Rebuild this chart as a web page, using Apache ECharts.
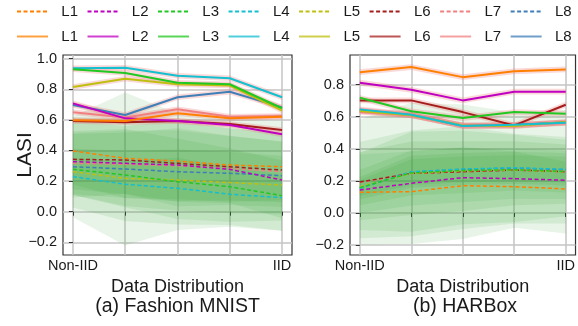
<!DOCTYPE html>
<html><head><meta charset="utf-8">
<script src="https://cdn.jsdelivr.net/npm/echarts@6/dist/echarts.min.js"></script>
<style>html,body{margin:0;padding:0;background:#fff}#c{width:578px;height:326px}</style>
</head><body><div id="c"></div>
<script>
// ---------- data ----------
const layers = ['L1','L2','L3','L4','L5','L6','L7','L8'];
const layerColors = ['#ff8000','#c000c0','#22c822','#14bfcf','#bfbf10','#a51c1c','#f08080','#3f7fb8'];
const xPos = [0, 1, 2, 3, 4];
const xTickLabels = ['Non-IID', '', '', '', 'IID'];
const yTicksFM = [-0.2, 0.0, 0.2, 0.4, 0.6, 0.8, 1.0];
const yTicksHB = [-0.2, 0.0, 0.2, 0.4, 0.6, 0.8];
const xLabelText = 'Data Distribution';
const yLabelText = 'LASI';
const subTitles = ['(a) Fashion MNIST', '(b) HARBox'];

// (a) Fashion MNIST, solid lines (mean) per layer
const fmSolid = [
  [0.597, 0.593, 0.643, 0.610, 0.621],
  [0.708, 0.610, 0.593, 0.567, 0.506],
  [0.931, 0.906, 0.843, 0.833, 0.676],
  [0.937, 0.940, 0.889, 0.872, 0.748],
  [0.815, 0.869, 0.833, 0.824, 0.660],
  [0.593, 0.584, 0.593, 0.573, 0.534],
  [0.650, 0.615, 0.670, 0.620, 0.625],
  [0.697, 0.632, 0.748, 0.784, 0.682]
];
const fmSolidStd = [0.018, 0.018, 0.018, 0.018, 0.018];
// (a) Fashion MNIST, dashed lines (mean) per layer
const fmDashed = [
  [0.397, 0.349, 0.331, 0.305, 0.294],
  [0.327, 0.316, 0.305, 0.277, 0.207],
  [0.277, 0.240, 0.196, 0.163, 0.105],
  [0.229, 0.179, 0.153, 0.114, 0.092],
  [0.261, 0.218, 0.207, 0.190, 0.174],
  [0.342, 0.338, 0.316, 0.294, 0.272],
  [0.316, 0.310, 0.300, 0.283, 0.261],
  [0.294, 0.279, 0.261, 0.251, 0.235]
];
const fmDashedStd = [
  [0.22, 0.26, 0.25, 0.24, 0.22],
  [0.18, 0.20, 0.24, 0.22, 0.25],
  [0.25, 0.30, 0.28, 0.25, 0.23],
  [0.12, 0.15, 0.20, 0.18, 0.15],
  [0.15, 0.18, 0.20, 0.20, 0.19],
  [0.25, 0.22, 0.28, 0.25, 0.24],
  [0.20, 0.22, 0.23, 0.21, 0.20],
  [0.33, 0.50, 0.38, 0.35, 0.36]
];

// (b) HARBox
const hbSolid = [
  [0.878, 0.910, 0.847, 0.883, 0.895],
  [0.812, 0.768, 0.702, 0.756, 0.756],
  [0.718, 0.634, 0.592, 0.629, 0.619],
  [0.646, 0.612, 0.542, 0.550, 0.563],
  [0.636, 0.609, 0.546, 0.542, 0.567],
  [0.702, 0.702, 0.629, 0.546, 0.675],
  [0.630, 0.610, 0.545, 0.545, 0.562],
  [0.640, 0.611, 0.544, 0.548, 0.565]
];
const hbSolidStd = [0.018, 0.018, 0.018, 0.018, 0.018];
const hbDashed = [
  [0.129, 0.133, 0.170, 0.164, 0.150],
  [0.143, 0.185, 0.220, 0.214, 0.204],
  [0.158, 0.250, 0.265, 0.270, 0.258],
  [0.154, 0.257, 0.274, 0.282, 0.272],
  [0.164, 0.247, 0.263, 0.268, 0.257],
  [0.193, 0.247, 0.257, 0.268, 0.257],
  [0.190, 0.246, 0.258, 0.268, 0.257],
  [0.156, 0.255, 0.272, 0.280, 0.270]
];
const hbDashedStd = [
  [0.235, 0.25, 0.24, 0.22, 0.17],
  [0.30, 0.33, 0.32, 0.28, 0.27],
  [0.11, 0.14, 0.14, 0.13, 0.13],
  [0.07, 0.10, 0.10, 0.10, 0.10],
  [0.21, 0.26, 0.25, 0.22, 0.20],
  [0.39, 0.44, 0.42, 0.36, 0.385],
  [0.19, 0.20, 0.19, 0.18, 0.17],
  [0.05, 0.08, 0.08, 0.08, 0.08]
];

// ---------- chart ----------
const FONT = '"Liberation Sans", Arial, Helvetica, sans-serif';
const TXT = '#1a1a1a';
const series = [];

function fmtY(v) {
  const r = Math.round(v * 10) / 10;
  return (r < 0 ? '\u2212' : '') + Math.abs(r).toFixed(1);
}

function bandSeries(g, mean, std, color, opacity, z) {
  const lower = mean.map((m, i) => m - std[i]);
  const upper = mean.map((m, i) => m + std[i]);
  return {
    type: 'custom', xAxisIndex: g, yAxisIndex: g, silent: true, z: z, clip: true,
    encode: {x: 0, y: [1, 2]},
    data: xPos.map((x, i) => [x, lower[i], upper[i]]),
    renderItem: (params, api) => {
      if (params.dataIndex !== 0) return null;
      const pts = [];
      for (let i = 0; i < xPos.length; i++) pts.push(api.coord([xPos[i], upper[i]]));
      for (let i = xPos.length - 1; i >= 0; i--) pts.push(api.coord([xPos[i], lower[i]]));
      return {type: 'polygon', shape: {points: pts}, style: {fill: color, opacity: opacity}};
    }
  };
}

function addChart(g, solid, solidStd, dashed, dashedStd) {
  const base = {type: 'line', xAxisIndex: g, yAxisIndex: g, symbol: 'none', silent: true, animation: false};
  dashed.forEach((m, k) => series.push(bandSeries(g, m, dashedStd[k], 'rgb(44,160,44)', 0.115, 1)));
  solid.forEach((m) => series.push(bandSeries(g, m, solidStd, '#f08080', 0.3, 2)));
  for (let k = dashed.length - 1; k >= 0; k--) {
    series.push(Object.assign({}, base, {
      name: layers[k], z: 3,
      itemStyle: {color: layerColors[k]},
      lineStyle: {color: layerColors[k], width: 1.5, type: [4, 2.5]},
      data: xPos.map((x, i) => [x, dashed[k][i]])
    }));
  }
  for (let k = solid.length - 1; k >= 0; k--) {
    series.push(Object.assign({}, base, {
      name: layers[k] + ' ', z: 4,
      itemStyle: {color: layerColors[k]},
      lineStyle: {color: layerColors[k], width: 2},
      data: xPos.map((x, i) => [x, solid[k][i]])
    }));
  }
}
addChart(0, fmSolid, fmSolidStd, fmDashed, fmDashedStd);
addChart(1, hbSolid, hbSolidStd, hbDashed, hbDashedStd);

function xAxis(g) {
  return {
    type: 'value', gridIndex: g, min: -0.19, max: 4.19,
    name: xLabelText, nameLocation: 'middle', nameGap: 18,
    nameTextStyle: {fontFamily: FONT, fontSize: 18, color: TXT},
    axisLine: {show: false},
    axisTick: {show: true, length: 4, lineStyle: {color: '#333'}, customValues: xPos},
    axisLabel: {customValues: [xPos[0], xPos[4]], fontFamily: FONT, fontSize: 14.5, color: TXT, margin: 3,
      formatter: v => xTickLabels[Math.round(v)]},
    splitLine: {show: true, lineStyle: {color: '#c4c4c4', width: 1.5}}
  };
}
function yAxis(g, min, max, ticks) {
  return {
    type: 'value', gridIndex: g, min: min, max: max,
    axisLine: {show: false},
    axisTick: {show: true, length: 4, lineStyle: {color: '#333'}, customValues: ticks},
    axisLabel: {customValues: ticks, fontFamily: FONT, fontSize: 14.5, color: TXT, margin: 6, formatter: fmtY},
    splitLine: {show: true, lineStyle: {color: '#c4c4c4', width: 1.5}}
  };
}

const legendCommon = {
  itemWidth: 31, itemHeight: 14, itemGap: 8.5, left: 16, width: 575, padding: 0,
  selectedMode: false,
  itemStyle: {opacity: 0, borderWidth: 0},
  textStyle: {fontFamily: FONT, fontSize: 15, color: TXT},
  formatter: n => '  ' + n.trim()
};

const option = {
  animation: false,
  backgroundColor: '#fff',
  grid: [
    {left: 63, top: 55, width: 229, height: 200, show: true, borderColor: '#333', borderWidth: 1.2, backgroundColor: 'transparent'},
    {left: 350, top: 55, width: 230, height: 200, show: true, borderColor: '#333', borderWidth: 1.2, backgroundColor: 'transparent'}
  ],
  xAxis: [xAxis(0), xAxis(1)],
  yAxis: [yAxis(0, -0.283, 1.024, yTicksFM), yAxis(1, -0.262, 0.985, yTicksHB)],
  legend: [
    Object.assign({}, legendCommon, {top: 4, data: layers.slice()}),
    Object.assign({}, legendCommon, {top: 29, data: layers.map(n => ({name: n + ' ', lineStyle: {opacity: 0.75}}))})
  ],
  graphic: [
    {type: 'text', x: 25, y: 155, rotation: Math.PI / 2,
      style: {text: yLabelText, fontFamily: FONT, fontSize: 21, fill: TXT, align: 'center', verticalAlign: 'middle'}},
    {type: 'text', x: 177.5, y: 307,
      style: {text: subTitles[0], fontFamily: FONT, fontSize: 19.5, fill: TXT, align: 'center', verticalAlign: 'middle'}},
    {type: 'text', x: 465, y: 307,
      style: {text: subTitles[1], fontFamily: FONT, fontSize: 19.5, fill: TXT, align: 'center', verticalAlign: 'middle'}}
  ],
  series: series
};
const chart = echarts.init(document.getElementById('c'), null, {renderer: 'canvas'});
chart.setOption(option);
</script>
</body></html>
